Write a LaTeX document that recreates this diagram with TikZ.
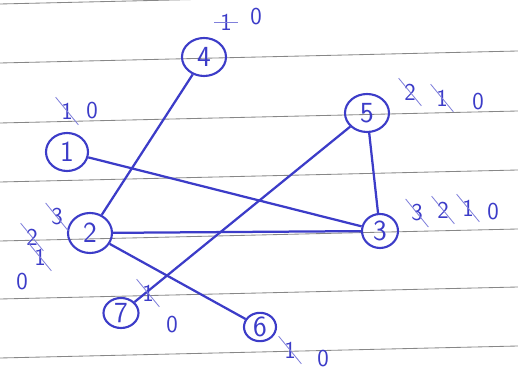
\documentclass[tikz,border=0pt]{standalone}
\usepackage{tikz}
\usetikzlibrary{shapes.geometric}
\definecolor{ink}{RGB}{60,60,200}
\definecolor{rule}{RGB}{135,135,135}

\begin{document}
\begin{tikzpicture}[
    x=0.25mm, y=-0.25mm,
    every node/.style={align=center, text=ink},
    vert/.style={draw=ink, ellipse, line width=1.5pt, inner sep=0pt, font=\huge\sffamily},
    cnt/.style={font=\LARGE\sffamily, inner sep=1pt},
    edge/.style={draw=ink, line width=1.6pt},
    strike/.style={draw=ink!65, line width=0.6pt}
]
\useasboundingbox (0,0) rectangle (518,374);
% ruled paper
\begin{scope}
\clip (0,0) rectangle (518,374);
\foreach \y in {4,63,123,182,241,299,358}
  \draw[rule, line width=0.6pt] (0,\y) -- (518,\y-12);
\end{scope}

% vertices
\node[vert, minimum width=10.5mm, minimum height=9.5mm] (v1) at (67,152) {1};
\node[vert, minimum width=11mm, minimum height=10mm] (v2) at (90,233) {2};
\node[vert, minimum width=9mm, minimum height=8.5mm] (v3) at (380,231) {3};
\node[vert, minimum width=11mm, minimum height=9.5mm] (v4) at (204,57) {4};
\node[vert, minimum width=11mm, minimum height=9.5mm] (v5) at (367,113) {5};
\node[vert, minimum width=8mm, minimum height=7mm] (v6) at (260,327) {6};
\node[vert, minimum width=8.75mm, minimum height=7.5mm] (v7) at (121,313) {7};

% edges
\draw[edge] (v1) -- (v3);
\draw[edge] (v4) -- (v2);
\draw[edge] (v2) -- (v3);
\draw[edge] (v2) -- (v6);
\draw[edge] (v5) -- (v7);
\draw[edge] (v5) -- (v3);

% counters
\node[cnt] (c4a) at (226,22) {1};
\node[cnt] (c4b) at (256,17) {0};
\node[cnt] (c1a) at (67,111) {1};
\node[cnt] (c1b) at (92,111) {0};
\node[cnt] (c2a) at (57,217) {3};
\node[cnt] (c2b) at (32,237) {2};
\node[cnt] (c2c) at (40,257) {1};
\node[cnt] (c2d) at (22,282) {0};
\node[cnt] (c5a) at (410,92) {2};
\node[cnt] (c5b) at (442,98) {1};
\node[cnt] (c5c) at (478,102) {0};
\node[cnt] (c3a) at (417,213) {3};
\node[cnt] (c3b) at (443,210) {2};
\node[cnt] (c3c) at (468,208) {1};
\node[cnt] (c3d) at (493,212) {0};
\node[cnt] (c7a) at (148,293) {1};
\node[cnt] (c7b) at (172,325) {0};
\node[cnt] (c6a) at (290,350) {1};
\node[cnt] (c6b) at (323,359) {0};

% crossed out
\foreach \c in {c1a,c2a,c2b,c2c,c5a,c5b,c3a,c3b,c3c,c7a,c6a}
  \draw[strike] ([shift={(-4,-4)}]\c.north west) -- ([shift={(4,4)}]\c.south east);
\draw[strike] ([xshift=-3]c4a.west) -- ([xshift=3]c4a.east);
\end{tikzpicture}
\end{document}
